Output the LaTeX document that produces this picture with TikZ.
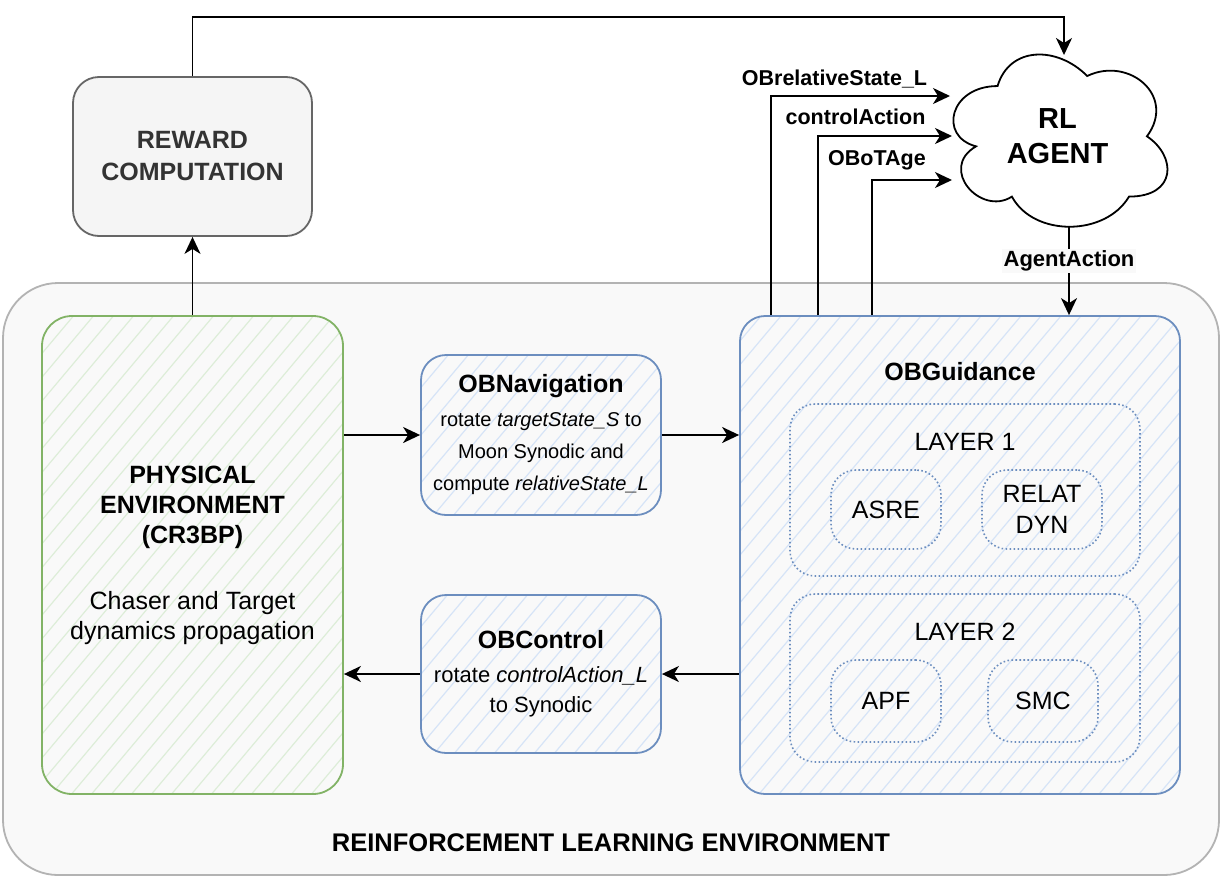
\documentclass[tikz,border=0pt]{standalone}
\usepackage{fontspec}
\setmainfont{Liberation Sans}
\usetikzlibrary{arrows.meta,calc}
\definecolor{envfill}{HTML}{F9F9F9}
\definecolor{envdraw}{HTML}{B3B3B3}
\definecolor{greendraw}{HTML}{82B366}
\definecolor{greenhatch}{HTML}{DDEDD8}
\definecolor{bluedraw}{HTML}{6C8EBF}
\definecolor{bluehatch}{HTML}{D6E4F7}
\definecolor{rewfill}{HTML}{F5F5F5}
\definecolor{rewdraw}{HTML}{666666}
\definecolor{rewtext}{HTML}{333333}
\newcommand{\fsz}[2]{\fontsize{#1}{#2}\selectfont}
\tikzset{
  hatchfill/.style={path picture={
    \foreach \k in {-26,...,26}{
      \draw[#1, line width=1.2pt]
        ($(path picture bounding box.center)+(\k*20pt-290pt,-345pt)$) -- ++(580pt,690pt);
    }}},
  envbox/.style={draw=envdraw, fill=envfill, line width=1.8pt, rounded corners=55pt},
  rewbox/.style={draw=rewdraw, fill=rewfill, line width=1.8pt, rounded corners=26pt,
    text=rewtext, align=center, font=\fsz{25}{32}\bfseries},
  greenbox/.style={draw=greendraw, line width=1.8pt, rounded corners=30pt,
    hatchfill=greenhatch, align=center, font=\fsz{25}{30}},
  bluebox/.style={draw=bluedraw, line width=1.8pt, rounded corners=25pt,
    hatchfill=bluehatch, align=center},
  dotbox/.style={draw=bluedraw, line width=1.6pt, dash pattern=on 1.6pt off 2.4pt,
    rounded corners=25pt, align=center, font=\fsz{25}{31}},
  arr/.style={draw=black, line width=1.8pt,
    -{Stealth[length=17pt, width=16pt, inset=5pt]}},
  edgelabel/.style={font=\fsz{21.5}{26}\bfseries, inner sep=2pt},
  plainlabel/.style={font=\fsz{25}{30}, inner sep=0pt},
}
\begin{document}
\begin{tikzpicture}[x=1pt, y=-1pt]
\useasboundingbox (0,0) rectangle (1222,881);
\fill[white] (0,0) rectangle (1222,881);

% environment
\node[envbox, minimum width=1216pt, minimum height=592pt] (env) at (611,579) {};
\node[font=\fsz{25.5}{30}\bfseries, inner sep=0pt] (envlabel) at (611,843)
  {REINFORCEMENT LEARNING ENVIRONMENT};

% reward
\node[rewbox, minimum width=239pt, minimum height=159pt] (reward) at (192.5,156.5)
  {REWARD\\COMPUTATION};

% physical environment
\node[greenbox, minimum width=301pt, minimum height=478pt] (phys) at (192.5,555)
  {\textbf{PHYSICAL}\\\textbf{ENVIRONMENT}\\\textbf{(CR3BP)}\\[36pt]Chaser and Target\\dynamics propagation};

% navigation
\node[bluebox, font=\fsz{20}{32}, minimum width=240pt, minimum height=160pt] (nav) at (541,435)
  {{\fsz{25}{30}\bfseries OBNavigation}\\[2pt]rotate \textit{targetState\_S} to\\Moon Synodic and\\compute \textit{relativeState\_L}};

% control
\node[bluebox, font=\fsz{22}{30}, minimum width=240pt, minimum height=158pt] (ctrl) at (541,674)
  {{\fsz{25}{30}\bfseries OBControl}\\[4pt]rotate \textit{controlAction\_L}\\to Synodic};

% guidance
\node[bluebox, minimum width=440pt, minimum height=478pt] (guid) at (960,555) {};
\node[font=\fsz{25}{30}\bfseries, inner sep=0pt] (guidT) at (960,372) {OBGuidance};

\node[dotbox, minimum width=350pt, minimum height=172pt] (layer1) at (965,490) {};
\node[plainlabel] (layer1T) at (965,442) {LAYER 1};
\node[dotbox, minimum width=110pt, minimum height=79pt] (asre) at (886,509.5) {ASRE};
\node[dotbox, minimum width=120pt, minimum height=79pt] (relat) at (1042,509.5) {RELAT\\DYN};

\node[dotbox, minimum width=350pt, minimum height=168pt] (layer2) at (965,678) {};
\node[plainlabel] (layer2T) at (965,632) {LAYER 2};
\node[dotbox, minimum width=110pt, minimum height=82pt] (apf) at (886,701) {APF};
\node[dotbox, minimum width=110pt, minimum height=82pt] (smc) at (1043,701) {SMC};

% RL agent (cloud)
\node[minimum width=239pt, minimum height=201pt, inner sep=0pt, align=center,
  font=\fsz{29}{35}\bfseries] (agent) at (1057.5,136.5) {RL\\AGENT};
\begin{scope}[shift={(agent.north west)}, x=239pt, y=-201pt]
\draw[line width=1.8pt] (0.25,0.25) .. controls (0.05,0.25) and (0,0.5) .. (0.16,0.55)
  .. controls (0,0.66) and (0.18,0.9) .. (0.31,0.8)
  .. controls (0.4,1) and (0.7,1) .. (0.8,0.8)
  .. controls (1,0.8) and (1,0.6) .. (0.875,0.5)
  .. controls (1,0.3) and (0.8,0.1) .. (0.625,0.2)
  .. controls (0.5,0.05) and (0.3,0.05) .. (0.25,0.25) -- cycle;
\end{scope}
\coordinate (agtop) at (1064,55);
\coordinate (agbot) at (1069,227);
\coordinate (in1) at (950,96);
\coordinate (in2) at (952,136);
\coordinate (in3) at (952,180);

% connectors
\draw[arr] (nav.west -| phys.east) -- (nav.west);
\draw[arr] (nav.east) -- (nav.east -| guid.west);
\draw[arr] (ctrl.east -| guid.west) -- (ctrl.east);
\draw[arr] (ctrl.west) -- (ctrl.west -| phys.east);
\draw[arr] (phys.north) -- (reward.south);
\draw[arr] (reward.north) |- ($(agtop)+(0,-38)$) -- (agtop);

\draw[arr] ($(guid.north west)+(32,0)$) |- (in1);
\draw[arr] ($(guid.north west)+(79,0)$) |- (in2);
\draw[arr] ($(guid.north west)+(133,0)$) |- (in3);
\node[edgelabel] (l1) at (834.5,79) {OBrelativeState\_L};
\node[edgelabel] (l2) at (855.5,117) {controlAction};
\node[edgelabel] (l3) at (877,160) {OBoTAge};

\draw[arr] (agbot) -- (agbot |- guid.north);
\node[edgelabel, fill=envfill, font=\fsz{22}{26}\bfseries] (l4) at (1069,261) {AgentAction};

\end{tikzpicture}
\end{document}
